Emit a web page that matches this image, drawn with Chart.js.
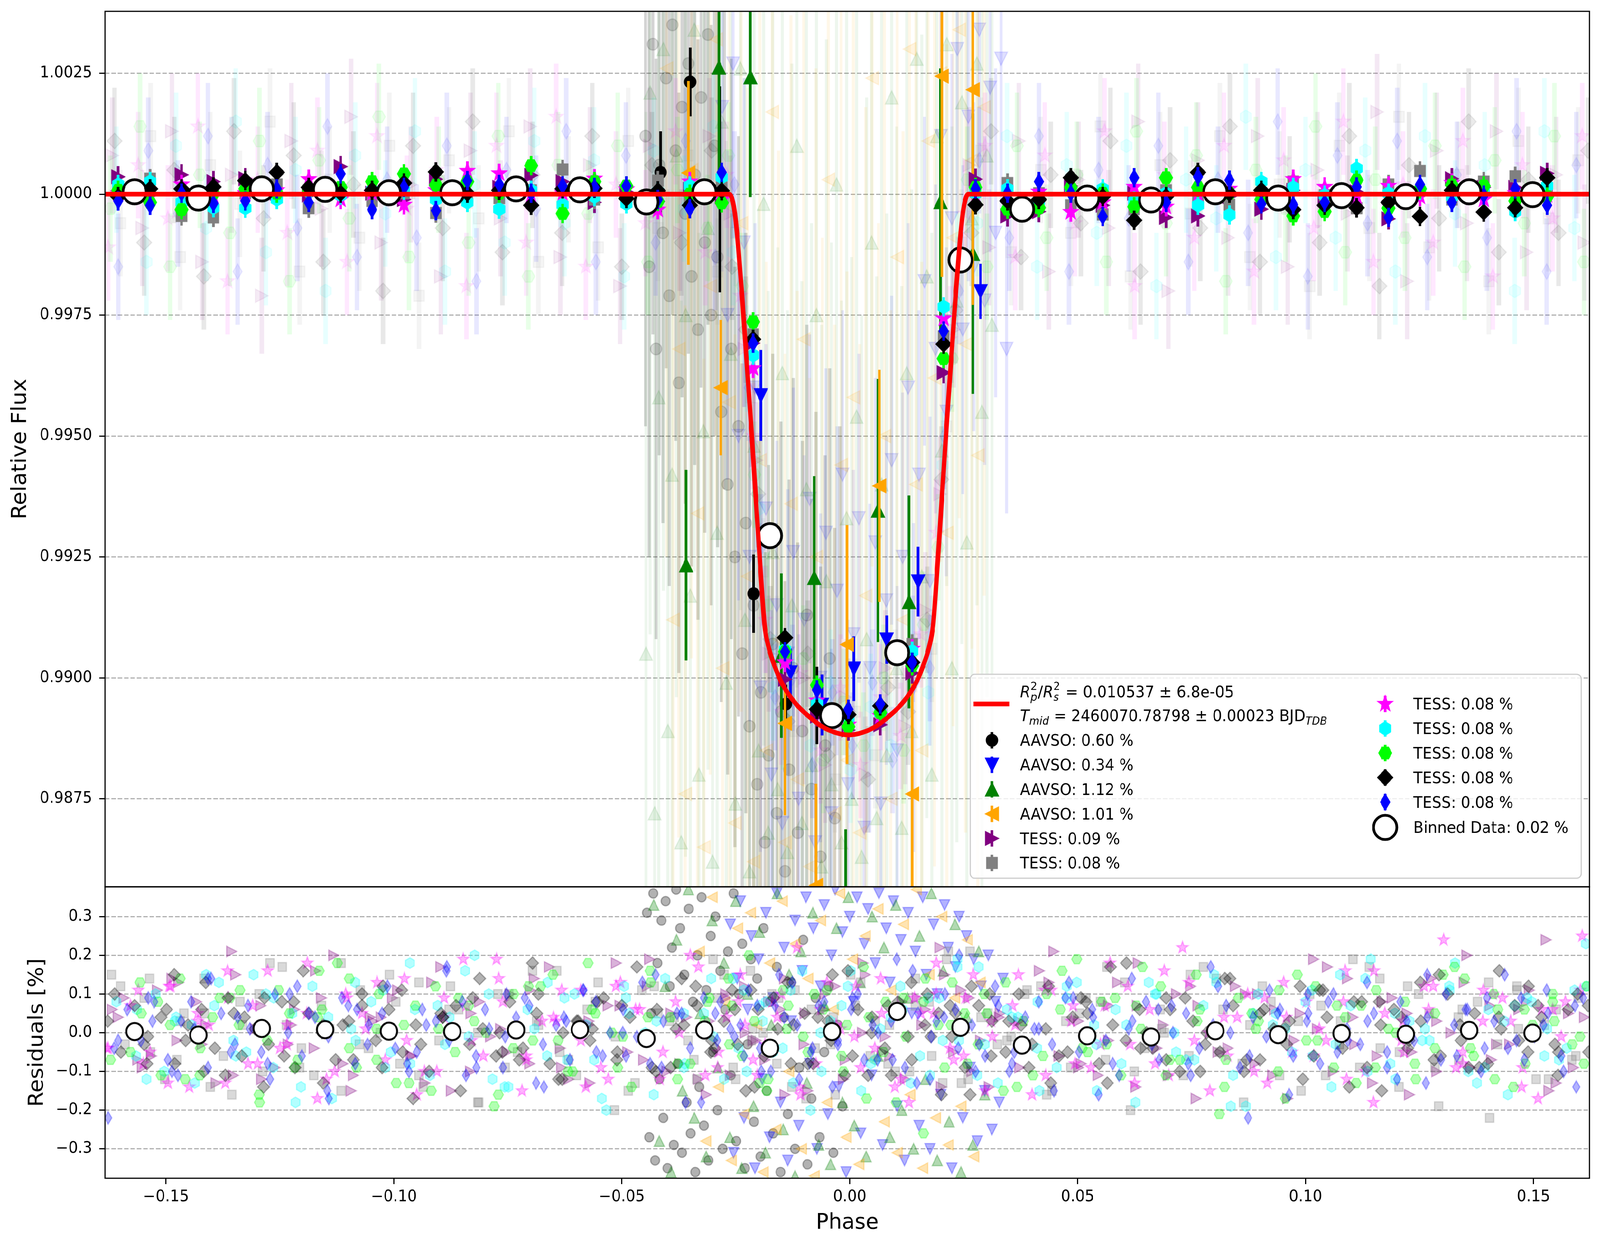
<!DOCTYPE html>
<html>
<head>
<meta charset="utf-8">
<script src="https://cdn.jsdelivr.net/npm/chart.js@4.4.1/dist/chart.umd.min.js"></script>
<style>
  html, body { margin: 0; padding: 0; background: #fff; overflow: hidden; }
  #outer { position: fixed; left: 0; top: 0; width: 100vw; height: 100vh; overflow: hidden; background: #fff; }
  #wrap { position: absolute; left: 0; top: 0; width: 4268px; height: 3192px; transform-origin: 0 0; background: #fff; }
  canvas { position: absolute; left: 0; }
  #top { top: 0; width: 4268px; height: 2290px; }
  #bottom { top: 2260px; width: 4268px; height: 932px; }
</style>
</head>
<body>
<div id="outer">
  <div id="wrap">
    <canvas id="top" width="4268" height="2290"></canvas>
    <canvas id="bottom" width="4268" height="932"></canvas>
  </div>
</div>
<script>
// ---- tick labels ----
const xTicks = [-0.15, -0.10, -0.05, 0, 0.05, 0.10, 0.15];
const fluxTicks = [0.9875, 0.9900, 0.9925, 0.9950, 0.9975, 1.0000, 1.0025];
const residTicks = [-0.3, -0.2, -0.1, 0, 0.1, 0.2, 0.3];

// ---- transit model (red line) ----
const modelPhase = [-0.1634,-0.0264,-0.0258,-0.0252,-0.0245,-0.0237,-0.0227,-0.0217,-0.0207,-0.0197,-0.0187,-0.0177,-0.0165,-0.0152,-0.0137,-0.0117,-0.0092,-0.0062,-0.0032,-0.0002,0.0028,0.0058,0.0088,0.0113,0.0133,0.0148,0.0161,0.0173,0.0183,0.0193,0.0203,0.0213,0.0223,0.0233,0.0241,0.0248,0.0254,0.0260,0.1623];
const modelFlux = [1.0000,1.0000,0.9999,0.9996,0.99895,0.9980,0.99665,0.9953,0.99385,0.9924,0.9911,0.9906,0.99025,0.98995,0.9897,0.98945,0.98922,0.9890,0.98887,0.98882,0.98887,0.9890,0.98922,0.98945,0.9897,0.98995,0.99025,0.9906,0.9911,0.9924,0.99385,0.9953,0.99665,0.9980,0.99895,0.9996,0.9999,1.0000,1.0000];

// ---- binned data (white circles) ----
const binPhase = [-0.1569,-0.1429,-0.1290,-0.1151,-0.1011,-0.0872,-0.0732,-0.0592,-0.0446,-0.0319,-0.0175,-0.0039,0.0104,0.0243,0.0378,0.0521,0.0661,0.0802,0.0940,0.1079,0.1220,0.1359,0.1498];
const binFlux = [1.00005,0.99992,1.00011,1.00010,1.00003,1.00003,1.00011,1.00009,0.99984,1.00005,0.99294,0.98922,0.99052,0.99864,0.99969,0.99992,0.99988,1.00005,0.99992,0.99997,0.99995,1.00005,0.99999];
const binResid = [0.003,-0.006,0.011,0.008,0.004,0.003,0.007,0.008,-0.015,0.007,-0.040,0.003,0.055,0.014,-0.032,-0.008,-0.011,0.005,-0.005,-0.002,-0.004,0.006,-0.001];

// ---- AAVSO 0.60 % ----
const aavso060Phase = [-0.0448,-0.0440,-0.0432,-0.0425,-0.0418,-0.0410,-0.0403,-0.0396,-0.0389,-0.0382,-0.0375,-0.0368,-0.0361,-0.0354,-0.0347,-0.0340,-0.0333,-0.0326,-0.0318,-0.0311,-0.0304,-0.0297,-0.0290,-0.0282,-0.0275,-0.0268,-0.0260,-0.0252,-0.0244,-0.0236,-0.0228,-0.0220,-0.0211,-0.0203,-0.0195,-0.0186,-0.0178,-0.0169,-0.0160,-0.0151,-0.0142,-0.0133,-0.0124,-0.0114,-0.0104,-0.0094,-0.0084,-0.0074,-0.0064,-0.0054,-0.0044,-0.0033,-0.0022];
const aavso060Flux = [1.0012,0.9985,1.0031,0.9968,1.0006,0.9992,1.0024,0.9979,1.0035,1.0009,0.9961,1.0018,0.9996,1.0027,0.9983,1.0004,0.9972,1.0020,0.9990,1.0033,0.9975,1.0010,0.9987,0.9955,0.9999,0.9940,0.9968,0.9925,0.9952,0.9905,0.9932,0.9890,0.9915,0.9878,0.9897,0.9866,0.9884,0.9907,0.9872,0.9893,0.9860,0.9881,0.9902,0.9868,0.9889,0.9913,0.9877,0.9895,0.9863,0.9886,0.9904,0.9871,0.9892];
const aavso060ResPhase = [-0.0445,-0.0440,-0.0436,-0.0431,-0.0427,-0.0422,-0.0418,-0.0413,-0.0409,-0.0404,-0.0400,-0.0395,-0.0390,-0.0386,-0.0381,-0.0377,-0.0372,-0.0368,-0.0363,-0.0358,-0.0353,-0.0349,-0.0344,-0.0339,-0.0334,-0.0330,-0.0325,-0.0320,-0.0315,-0.0310,-0.0305,-0.0300,-0.0295,-0.0290,-0.0284,-0.0279,-0.0273,-0.0267,-0.0261,-0.0255,-0.0249,-0.0243,-0.0236,-0.0230,-0.0224,-0.0217,-0.0210,-0.0203,-0.0196,-0.0189,-0.0182,-0.0175,-0.0168,-0.0160,-0.0152,-0.0144,-0.0136,-0.0128,-0.0120,-0.0111,-0.0102,-0.0093,-0.0084,-0.0075,-0.0066,-0.0056,-0.0046,-0.0036,-0.0026,-0.0016];
const aavso060Res = [0.31,-0.27,0.05,0.36,-0.33,0.18,-0.12,0.29,-0.22,0.34,-0.35,0.12,0.22,-0.29,0.37,-0.08,0.27,-0.31,0.15,-0.18,0.32,-0.26,0.08,-0.36,0.20,-0.14,0.35,-0.24,0.11,-0.33,0.25,-0.05,0.30,-0.20,0.16,-0.30,0.06,0.21,-0.11,0.36,-0.28,0.10,0.23,-0.35,-0.03,0.19,-0.23,0.14,-0.32,0.27,-0.15,0.08,-0.26,0.17,-0.36,0.04,-0.21,0.13,-0.30,-0.09,0.24,-0.34,-0.17,0.09,-0.27,-0.05,0.12,-0.31,0.02,-0.19];
const aavso060BinPhase = [-0.0415,-0.0350,-0.0285,-0.0211,-0.0140,-0.0072];
const aavso060BinFlux = [1.00045,1.00232,1.00010,0.99174,0.98946,0.98943];
const aavso060BinErr = [0.00085,0.00071,0.00213,0.00081,0.00040,0.00080];

// ---- AAVSO 0.34 % ----
const aavso034Phase = [-0.0280,-0.0268,-0.0256,-0.0244,-0.0232,-0.0220,-0.0208,-0.0196,-0.0184,-0.0172,-0.0160,-0.0148,-0.0136,-0.0124,-0.0112,-0.0100,-0.0088,-0.0076,-0.0064,-0.0052,-0.0040,-0.0028,-0.0016,-0.0004,0.0008,0.0020,0.0032,0.0044,0.0056,0.0068,0.0080,0.0092,0.0104,0.0116,0.0128,0.0140,0.0152,0.0164,0.0176,0.0188,0.0200,0.0212,0.0224,0.0236,0.0248,0.0260,0.0272,0.0284,0.0296,0.0308,0.0320,0.0332,0.0344];
const aavso034Flux = [1.0018,0.9975,1.0027,0.9950,0.9990,0.9925,0.9960,0.9898,0.9935,0.9880,0.9915,0.9870,0.9905,0.9926,0.9875,0.9912,0.9937,0.9866,0.9900,0.9930,0.9872,0.9918,0.9942,0.9878,0.9909,0.9933,0.9869,0.9902,0.9928,0.9874,0.9916,0.9945,0.9885,0.9925,0.9960,0.9898,0.9942,0.9982,0.9920,0.9968,1.0012,0.9955,0.9995,1.0030,0.9972,1.0016,0.9985,1.0034,0.9978,1.0022,0.9992,1.0028,0.9968];
const aavso034ResPhase = [-0.0262,-0.0255,-0.0247,-0.0240,-0.0232,-0.0224,-0.0216,-0.0208,-0.0200,-0.0192,-0.0184,-0.0176,-0.0168,-0.0160,-0.0152,-0.0144,-0.0136,-0.0128,-0.0120,-0.0112,-0.0104,-0.0096,-0.0088,-0.0080,-0.0072,-0.0064,-0.0056,-0.0048,-0.0040,-0.0032,-0.0024,-0.0016,-0.0008,0.0000,0.0008,0.0016,0.0024,0.0032,0.0040,0.0048,0.0056,0.0064,0.0072,0.0080,0.0088,0.0096,0.0104,0.0112,0.0120,0.0128,0.0136,0.0144,0.0152,0.0160,0.0168,0.0176,0.0184,0.0192,0.0200,0.0208,0.0216,0.0224,0.0232,0.0240,0.0248,0.0256,0.0264,0.0272,0.0280,0.0288,0.0296,0.0304,0.0312,0.0320,0.0328,0.0336];
const aavso034Res = [0.28,-0.31,0.14,0.34,-0.22,0.06,0.25,-0.35,0.19,-0.12,0.31,-0.27,0.09,0.36,-0.18,0.22,-0.33,0.03,0.29,-0.24,0.16,0.35,-0.08,0.27,-0.30,0.12,0.33,-0.21,0.20,0.37,-0.14,0.26,-0.36,0.30,0.08,0.35,-0.26,0.23,0.32,-0.11,0.18,0.36,-0.29,0.27,0.13,0.34,-0.19,0.24,-0.33,0.31,0.05,0.21,-0.24,0.35,0.15,-0.30,0.28,0.10,-0.16,0.33,0.22,-0.35,0.17,0.30,-0.22,0.25,-0.09,0.19,-0.28,0.12,-0.15,0.20,-0.25,0.08,-0.18,0.14];
const aavso034BinPhase = [-0.0195,-0.0130,-0.0061,0.0009,0.0081,0.0150,0.0287];
const aavso034BinFlux = [0.99584,0.99011,0.98944,0.99019,0.99079,0.99199,0.99799];
const aavso034BinErr = [0.00094,0.00050,0.00063,0.00067,0.00050,0.00072,0.00057];

// ---- AAVSO 1.12 % ----
const aavso112Phase = [-0.0447,-0.0438,-0.0428,-0.0419,-0.0409,-0.0399,-0.0390,-0.0380,-0.0370,-0.0360,-0.0350,-0.0341,-0.0331,-0.0321,-0.0311,-0.0301,-0.0291,-0.0281,-0.0271,-0.0261,-0.0251,-0.0240,-0.0230,-0.0220,-0.0210,-0.0200,-0.0189,-0.0179,-0.0169,-0.0158,-0.0148,-0.0137,-0.0127,-0.0116,-0.0105,-0.0095,-0.0084,-0.0073,-0.0062,-0.0051,-0.0040,-0.0029,-0.0018,-0.0007,0.0004,0.0015,0.0026,0.0037,0.0048,0.0059,0.0070,0.0081,0.0092,0.0103,0.0114,0.0125,0.0136,0.0147,0.0158,0.0169,0.0180,0.0191,0.0202,0.0213,0.0224,0.0235,0.0246,0.0257,0.0268,0.0279,0.0290,0.0301,0.0312];
const aavso112Flux = [0.9905,1.0021,0.9872,0.9958,1.0030,0.9889,0.9942,1.0008,0.9866,0.9975,0.9917,1.0034,0.9880,0.9951,0.9993,0.9862,0.9930,1.0015,0.9899,0.9967,0.9874,1.0026,0.9912,0.9860,0.9948,0.9885,0.9998,0.9868,0.9926,0.9877,0.9963,0.9864,0.9915,1.0010,0.9870,0.9939,0.9882,0.9975,0.9861,0.9920,0.9878,1.0002,0.9866,0.9933,0.9875,0.9954,0.9863,0.9908,0.9990,0.9871,0.9940,0.9884,1.0020,0.9902,0.9869,0.9963,0.9889,1.0028,0.9921,0.9983,0.9880,1.0012,0.9947,1.0031,0.9902,0.9978,1.0019,0.9928,0.9995,1.0027,0.9955,1.0008,0.9973];
const aavso112ResPhase = [-0.0430,-0.0418,-0.0405,-0.0392,-0.0380,-0.0367,-0.0354,-0.0341,-0.0328,-0.0315,-0.0302,-0.0289,-0.0276,-0.0263,-0.0250,-0.0237,-0.0224,-0.0211,-0.0198,-0.0185,-0.0172,-0.0159,-0.0146,-0.0133,-0.0120,-0.0107,-0.0094,-0.0081,-0.0068,-0.0055,-0.0042,-0.0029,-0.0016,-0.0003,0.0010,0.0023,0.0036,0.0049,0.0062,0.0075,0.0088,0.0101,0.0114,0.0127,0.0140,0.0153,0.0166,0.0179,0.0192,0.0205,0.0218,0.0231,0.0244,0.0257,0.0270,0.0283,0.0296];
const aavso112Res = [0.33,-0.28,0.12,-0.36,0.24,-0.15,0.37,-0.22,0.05,-0.32,0.29,-0.09,0.18,-0.27,0.34,-0.35,0.10,-0.19,0.26,-0.31,0.02,0.36,-0.25,0.15,-0.37,0.21,-0.13,0.31,-0.29,0.07,-0.34,0.27,-0.18,0.35,-0.24,0.13,-0.32,0.30,-0.06,0.22,-0.27,0.33,-0.20,0.09,-0.30,0.25,-0.12,0.36,-0.33,0.16,-0.23,0.28,-0.36,0.04,-0.29,0.21,-0.16];
const aavso112BinPhase = [-0.0359,-0.0287,-0.0218,-0.0150,-0.0078,-0.0009,0.0062,0.0130,0.0199,0.0270];
const aavso112BinFlux = [0.99233,1.00262,1.00242,0.99046,0.99207,0.98387,0.99346,0.99157,0.99984,0.99877];
const aavso112BinErr = [0.00197,0.00280,0.00248,0.00170,0.00210,0.00300,0.00272,0.00220,0.00276,0.00290];

// ---- AAVSO 1.01 % ----
const aavso101Phase = [-0.0402,-0.0388,-0.0375,-0.0361,-0.0347,-0.0334,-0.0320,-0.0306,-0.0293,-0.0279,-0.0265,-0.0252,-0.0238,-0.0224,-0.0211,-0.0197,-0.0183,-0.0170,-0.0156,-0.0142,-0.0129,-0.0115,-0.0101,-0.0088,-0.0074,-0.0060,-0.0047,-0.0033,-0.0019,-0.0006,0.0008,0.0022,0.0035,0.0049,0.0063,0.0076,0.0090,0.0104,0.0117,0.0131,0.0145,0.0158,0.0172,0.0186,0.0199,0.0213,0.0227,0.0240,0.0254,0.0268,0.0281,0.0295];
const aavso101Flux = [1.0026,0.9912,0.9968,0.9876,1.0005,0.9934,0.9865,0.9981,1.0032,0.9902,0.9957,0.9870,0.9994,0.9921,0.9862,0.9945,0.9885,1.0017,0.9908,0.9866,0.9936,0.9879,0.9970,0.9861,0.9925,0.9890,1.0003,0.9872,0.9944,0.9883,0.9958,0.9868,0.9917,1.0024,0.9893,0.9950,0.9875,0.9987,0.9912,1.0030,0.9940,0.9885,1.0011,0.9962,1.0025,0.9930,0.9991,1.0034,0.9969,1.0007,0.9946,1.0018];
const aavso101ResPhase = [-0.0330,-0.0316,-0.0302,-0.0288,-0.0274,-0.0260,-0.0246,-0.0232,-0.0218,-0.0204,-0.0190,-0.0176,-0.0162,-0.0148,-0.0134,-0.0120,-0.0106,-0.0092,-0.0078,-0.0064,-0.0050,-0.0036,-0.0022,-0.0008,0.0006,0.0020,0.0034,0.0048,0.0062,0.0076,0.0090,0.0104,0.0118,0.0132,0.0146,0.0160,0.0174,0.0188,0.0202,0.0216,0.0230,0.0244,0.0258,0.0272,0.0286];
const aavso101Res = [0.21,-0.28,0.35,-0.14,0.08,-0.33,0.27,-0.21,0.31,0.02,-0.36,0.18,-0.25,0.34,-0.10,0.23,-0.30,0.14,-0.37,0.29,-0.18,0.06,0.36,-0.27,0.19,-0.34,0.25,-0.07,0.32,-0.23,0.11,-0.31,0.28,-0.16,0.37,-0.35,0.15,-0.22,0.30,-0.29,0.09,-0.19,0.24,-0.32,0.13];
const aavso101BinPhase = [-0.0354,-0.0283,-0.0142,-0.0074,-0.0006,0.0065,0.0137,0.0202,0.0270];
const aavso101BinFlux = [1.00044,0.99600,0.98906,0.98571,0.99069,0.99397,0.98760,1.00244,1.00216];
const aavso101BinErr = [0.00190,0.00140,0.00190,0.00210,0.00247,0.00240,0.00244,0.00415,0.00445];

// ---- TESS sectors ----
const tessBinPhase = [-0.1605,-0.1535,-0.1466,-0.1396,-0.1326,-0.1257,-0.1187,-0.1117,-0.1048,-0.0978,-0.0908,-0.0839,-0.0769,-0.0699,-0.0630,-0.0560,-0.0490,-0.0421,-0.0351,-0.0281,-0.0212,-0.0142,-0.0072,-0.0003,0.0067,0.0137,0.0206,0.0276,0.0346,0.0415,0.0485,0.0555,0.0624,0.0694,0.0764,0.0833,0.0903,0.0973,0.1042,0.1112,0.1182,0.1251,0.1321,0.1391,0.1460,0.1530];

const tessPurplePhase = [-0.1618,-0.1552,-0.1487,-0.1421,-0.1356,-0.1290,-0.1225,-0.1159,-0.1094,-0.1028,-0.0963,-0.0897,-0.0832,-0.0766,-0.0701,-0.0635,-0.0570,-0.0504,-0.0439,-0.0373,-0.0308,-0.0262,-0.0231,-0.0205,-0.0178,-0.0142,-0.0098,-0.0054,-0.0010,0.0034,0.0078,0.0122,0.0166,0.0198,0.0228,0.0262,0.0306,0.0371,0.0437,0.0502,0.0568,0.0633,0.0699,0.0764,0.0830,0.0895,0.0961,0.1026,0.1092,0.1157,0.1223,0.1288,0.1354,0.1419,0.1485,0.1550,0.1612];
const tessPurpleFlux = [1.0008,0.9993,1.0013,0.9986,1.0004,0.9979,1.0011,0.9997,1.0016,0.9990,1.0002,0.9983,1.0009,0.9995,1.0014,0.9987,1.0006,0.9981,1.0010,0.9992,1.0012,0.9996,0.9968,0.9945,0.9905,0.9895,0.9900,0.9882,0.9896,0.9880,0.9902,0.9890,0.9914,0.9938,0.9972,1.0006,0.9989,1.0011,0.9984,1.0003,0.9993,1.0015,0.9980,1.0007,0.9991,1.0012,0.9985,1.0005,0.9996,1.0017,0.9982,1.0009,0.9994,1.0013,0.9988,1.0004,0.9990];
const tessPurpleRes = [0.06,-0.09,0.14,-0.03,0.21,-0.12,0.02,0.09,-0.15,0.04,-0.06,0.17,-0.10,0.01,0.11,-0.04,-0.13,0.07,0.19,-0.08,0.03,-0.11,0.12,-0.02,0.08,-0.16,0.05,0.10,-0.07,0.15,-0.01,-0.12,0.06,0.22,-0.05,0.09,-0.14,0.03,0.13,-0.09,-0.02,0.18,-0.11,0.07,-0.04,0.10,-0.17,0.01,0.14,-0.06,0.05,-0.10,0.20,-0.03,0.08,-0.13,0.04];
const tessPurpleResPhaseB = [-0.1605,-0.1562,-0.1519,-0.1476,-0.1433,-0.1390,-0.1347,-0.1304,-0.1261,-0.1218,-0.1175,-0.1132,-0.1089,-0.1046,-0.1003,-0.0960,-0.0917,-0.0874,-0.0831,-0.0788,-0.0745,-0.0702,-0.0659,-0.0616,-0.0573,-0.0530,-0.0487,-0.0444,-0.0401,-0.0358,-0.0315,-0.0272,-0.0229,-0.0186,-0.0143,-0.0100,-0.0057,-0.0014,0.0029,0.0072,0.0115,0.0158,0.0201,0.0244,0.0287,0.0330,0.0373,0.0416,0.0459,0.0502,0.0545,0.0588,0.0631,0.0674,0.0717,0.0760,0.0803,0.0846,0.0889,0.0932,0.0975,0.1018,0.1061,0.1104,0.1147,0.1190,0.1233,0.1276,0.1319,0.1362,0.1405,0.1448,0.1491,0.1534,0.1577];
const tessPurpleResB = [0.04,-0.07,0.11,-0.02,0.08,-0.13,0.15,0.01,-0.09,0.06,-0.04,0.20,-0.11,0.03,0.09,-0.06,0.13,-0.15,0.05,-0.01,0.10,-0.08,0.17,-0.12,0.02,0.07,-0.05,0.12,-0.10,0.04,-0.16,0.09,0.00,-0.07,0.14,-0.03,0.06,-0.12,0.18,-0.05,0.08,0.02,-0.14,0.11,-0.02,0.05,-0.09,0.16,-0.06,0.03,-0.11,0.13,0.07,-0.04,0.10,-0.17,0.01,0.12,-0.08,0.06,-0.02,0.19,-0.10,0.04,-0.13,0.09,-0.05,0.14,0.00,-0.09,0.07,-0.03,0.11,-0.15,0.05];
const tessPurpleResPhaseC = [-0.1592,-0.1532,-0.1472,-0.1412,-0.1352,-0.1292,-0.1232,-0.1172,-0.1112,-0.1052,-0.0992,-0.0932,-0.0872,-0.0812,-0.0752,-0.0692,-0.0632,-0.0572,-0.0512,-0.0452,-0.0392,-0.0332,-0.0272,-0.0212,-0.0152,-0.0092,-0.0032,0.0028,0.0088,0.0148,0.0208,0.0268,0.0328,0.0388,0.0448,0.0508,0.0568,0.0628,0.0688,0.0748,0.0808,0.0868,0.0928,0.0988,0.1048,0.1108,0.1168,0.1228,0.1288,0.1348,0.1408,0.1468,0.1528,0.1588];
const tessPurpleResC = [0.09,-0.06,0.13,0.02,-0.11,0.07,-0.03,0.16,-0.08,0.04,0.11,-0.13,0.01,0.08,-0.05,0.14,-0.09,0.03,0.18,-0.07,0.05,-0.12,0.10,-0.02,0.06,-0.15,0.12,0.00,-0.06,0.09,0.15,-0.10,0.04,-0.04,0.21,-0.08,0.07,-0.14,0.02,0.12,-0.05,0.10,-0.11,0.05,0.17,-0.03,0.08,-0.16,0.03,0.13,-0.07,0.06,0.24,-0.09];
const tessPurpleBin = [1.00036,0.99998,1.00040,1.00026,1.00032,1.00002,0.99998,1.00057,1.00002,0.99989,1.00031,1.00002,1.00014,1.00039,1.00026,0.99983,1.00005,0.99985,1.00010,0.99995,0.99692,0.98997,0.98921,0.98892,0.98903,0.99010,0.99631,1.00031,0.99955,0.99964,1.00017,0.99977,1.00002,0.99952,0.99955,0.99995,0.99969,1.00008,0.99989,1.00005,0.99949,0.99998,1.00032,1.00014,1.00014,1.00043];

const tessGrayPhase = [-0.1600,-0.1534,-0.1469,-0.1403,-0.1338,-0.1272,-0.1207,-0.1141,-0.1076,-0.1010,-0.0945,-0.0879,-0.0814,-0.0748,-0.0683,-0.0617,-0.0552,-0.0486,-0.0421,-0.0355,-0.0290,-0.0250,-0.0218,-0.0190,-0.0160,-0.0120,-0.0076,-0.0032,0.0012,0.0056,0.0100,0.0144,0.0180,0.0212,0.0245,0.0288,0.0354,0.0419,0.0485,0.0550,0.0616,0.0681,0.0747,0.0812,0.0878,0.0943,0.1009,0.1074,0.1140,0.1205,0.1271,0.1336,0.1402,0.1467,0.1533,0.1598];
const tessGrayFlux = [0.9994,1.0012,0.9987,1.0006,0.9998,1.0015,0.9984,1.0003,0.9991,1.0010,0.9979,1.0007,0.9995,1.0013,0.9986,1.0001,0.9989,1.0011,0.9993,1.0008,0.9984,0.9992,0.9958,0.9922,0.9906,0.9889,0.9897,0.9879,0.9893,0.9884,0.9899,0.9908,0.9906,0.9952,0.9990,1.0009,0.9988,1.0005,0.9992,1.0014,0.9983,1.0006,0.9996,1.0012,0.9987,1.0002,0.9981,1.0010,0.9993,1.0016,0.9989,1.0004,0.9982,1.0011,0.9995,1.0007];
const tessGrayRes = [0.12,-0.05,0.03,-0.14,0.08,0.18,-0.09,0.01,-0.03,0.15,-0.11,0.06,-0.18,0.10,0.02,-0.07,0.13,-0.15,0.05,-0.02,0.09,-0.12,0.16,0.00,-0.08,0.11,-0.04,-0.16,0.07,0.03,-0.10,0.14,-0.06,0.19,-0.13,0.04,-0.01,0.12,-0.09,0.08,-0.20,0.06,0.15,-0.05,0.02,-0.11,0.10,-0.03,0.17,-0.14,0.05,-0.07,0.13,0.01,-0.12,0.09];
const tessGrayResPhaseB = [-0.1590,-0.1548,-0.1503,-0.1461,-0.1417,-0.1374,-0.1332,-0.1288,-0.1245,-0.1203,-0.1159,-0.1116,-0.1074,-0.1030,-0.0987,-0.0945,-0.0901,-0.0858,-0.0816,-0.0772,-0.0729,-0.0687,-0.0643,-0.0600,-0.0558,-0.0514,-0.0471,-0.0429,-0.0385,-0.0342,-0.0300,-0.0256,-0.0213,-0.0171,-0.0127,-0.0084,-0.0042,0.0002,0.0045,0.0087,0.0131,0.0174,0.0216,0.0260,0.0303,0.0345,0.0389,0.0432,0.0474,0.0518,0.0561,0.0603,0.0647,0.0690,0.0732,0.0776,0.0819,0.0861,0.0905,0.0948,0.0990,0.1034,0.1077,0.1119,0.1163,0.1206,0.1248,0.1292,0.1335,0.1377,0.1421,0.1464,0.1506,0.1550,0.1593];
const tessGrayResB = [-0.03,0.09,-0.12,0.05,0.14,-0.06,0.02,-0.10,0.17,-0.04,0.07,-0.15,0.11,0.00,-0.08,0.13,-0.02,0.06,-0.18,0.10,-0.05,0.03,0.16,-0.11,0.08,-0.01,-0.13,0.12,0.04,-0.07,0.19,-0.09,0.01,0.10,-0.14,0.06,-0.03,0.15,-0.06,0.02,-0.10,0.08,0.21,-0.12,0.05,-0.02,0.11,-0.16,0.03,0.09,-0.07,0.13,-0.04,0.00,-0.11,0.17,0.06,-0.08,0.12,-0.01,-0.15,0.07,0.03,-0.09,0.14,-0.05,0.10,-0.19,0.04,0.08,-0.03,0.12,-0.12,0.06,-0.06];
const tessGrayResPhaseC = [-0.1536,-0.1476,-0.1416,-0.1356,-0.1296,-0.1236,-0.1176,-0.1116,-0.1056,-0.0996,-0.0936,-0.0876,-0.0816,-0.0756,-0.0696,-0.0636,-0.0576,-0.0516,-0.0456,-0.0396,-0.0336,-0.0276,-0.0216,-0.0156,-0.0096,-0.0036,0.0024,0.0084,0.0144,0.0204,0.0264,0.0324,0.0384,0.0444,0.0504,0.0564,0.0624,0.0684,0.0744,0.0804,0.0864,0.0924,0.0984,0.1044,0.1104,0.1164,0.1224,0.1284,0.1344,0.1404,0.1464,0.1524,0.1584,-0.1620];
const tessGrayResC = [0.14,-0.07,0.05,-0.16,0.10,0.02,-0.11,0.18,-0.04,0.08,-0.14,0.12,0.00,-0.09,0.16,-0.05,0.06,-0.20,0.11,0.03,-0.12,0.15,-0.02,0.09,-0.17,0.04,0.13,-0.08,0.07,-0.13,0.21,-0.03,0.10,-0.15,0.05,0.17,-0.10,0.01,-0.06,0.14,-0.18,0.08,0.03,-0.11,0.19,-0.04,0.12,-0.09,0.06,-0.22,0.11,0.02,-0.07,0.15];
const tessGrayBin = [1.00014,1.00032,0.99955,0.99952,1.00002,1.00020,0.99971,1.00008,0.99986,1.00002,0.99961,0.99995,0.99992,1.00008,1.00051,0.99989,0.99990,1.00028,0.99995,1.00014,0.99710,0.99040,0.98946,0.98910,0.98930,0.99070,0.99706,1.00005,1.00023,1.00002,0.99977,0.99958,0.99969,1.00008,0.99995,0.99978,1.00002,1.00026,0.99998,0.99971,1.00020,1.00048,0.99989,1.00026,1.00037,1.00005];

const tessMagentaPhase = [-0.1627,-0.1561,-0.1496,-0.1430,-0.1365,-0.1299,-0.1234,-0.1168,-0.1103,-0.1037,-0.0972,-0.0906,-0.0841,-0.0775,-0.0710,-0.0644,-0.0579,-0.0513,-0.0448,-0.0382,-0.0317,-0.0270,-0.0240,-0.0212,-0.0186,-0.0150,-0.0108,-0.0064,-0.0020,0.0024,0.0068,0.0112,0.0156,0.0190,0.0220,0.0254,0.0297,0.0363,0.0428,0.0494,0.0559,0.0625,0.0690,0.0756,0.0821,0.0887,0.0952,0.1018,0.1083,0.1149,0.1214,0.1280,0.1345,0.1411,0.1476,0.1542,0.1607];
const tessMagentaFlux = [0.9989,1.0006,0.9995,1.0014,0.9982,1.0003,0.9992,1.0009,0.9986,1.0012,0.9997,1.0005,0.9981,1.0010,0.9990,1.0016,0.9985,1.0002,0.9994,1.0013,0.9988,1.0004,0.9979,0.9950,0.9912,0.9893,0.9901,0.9885,0.9898,0.9882,0.9896,0.9888,0.9909,0.9930,0.9970,0.9996,1.0010,0.9987,1.0008,0.9994,1.0013,0.9981,1.0004,0.9991,1.0010,0.9984,1.0007,0.9993,1.0015,0.9986,1.0002,0.9990,1.0011,0.9983,1.0006,0.9995,1.0012];
const tessMagentaRes = [-0.04,0.11,-0.13,0.05,0.16,-0.08,0.02,-0.17,0.09,0.13,-0.02,-0.10,0.07,0.19,-0.06,0.03,-0.14,0.12,-0.01,0.08,-0.11,0.04,0.15,-0.07,-0.03,0.10,-0.16,0.06,0.01,-0.09,0.14,-0.12,0.05,0.18,-0.04,0.09,-0.15,0.02,0.11,-0.08,0.07,-0.13,0.16,-0.02,0.04,-0.10,0.13,-0.06,0.08,-0.18,0.03,0.12,-0.05,0.10,-0.09,0.06,0.25];
const tessMagentaResPhaseB = [-0.1578,-0.1535,-0.1493,-0.1449,-0.1406,-0.1364,-0.1320,-0.1277,-0.1235,-0.1191,-0.1148,-0.1106,-0.1062,-0.1019,-0.0977,-0.0933,-0.0890,-0.0848,-0.0804,-0.0761,-0.0719,-0.0675,-0.0632,-0.0590,-0.0546,-0.0503,-0.0461,-0.0417,-0.0374,-0.0332,-0.0288,-0.0245,-0.0203,-0.0159,-0.0116,-0.0074,-0.0030,0.0013,0.0055,0.0099,0.0142,0.0184,0.0228,0.0271,0.0313,0.0357,0.0400,0.0442,0.0486,0.0529,0.0571,0.0615,0.0658,0.0700,0.0744,0.0787,0.0829,0.0873,0.0916,0.0958,0.1002,0.1045,0.1087,0.1131,0.1174,0.1216,0.1260,0.1303,0.1345,0.1389,0.1432,0.1474,0.1518,0.1561,0.1603];
const tessMagentaResB = [0.07,-0.05,0.12,-0.14,0.02,0.09,-0.08,0.16,-0.03,0.05,-0.12,0.10,0.01,-0.07,0.14,-0.10,0.04,0.19,-0.06,0.08,-0.15,0.03,0.11,-0.02,-0.09,0.13,0.06,-0.12,0.00,0.17,-0.05,0.08,-0.11,0.04,0.22,-0.08,0.02,0.12,-0.04,-0.14,0.09,0.05,-0.07,0.15,-0.01,0.07,-0.16,0.11,0.03,-0.09,0.18,-0.03,0.06,-0.11,0.13,0.00,-0.06,0.10,-0.13,0.04,0.08,-0.02,0.16,-0.10,0.05,-0.05,0.12,0.24,-0.08,0.03,0.09,-0.14,0.06,-0.01,0.11];
const tessMagentaResPhaseC = [-0.1550,-0.1490,-0.1430,-0.1370,-0.1310,-0.1250,-0.1190,-0.1130,-0.1070,-0.1010,-0.0950,-0.0890,-0.0830,-0.0770,-0.0710,-0.0650,-0.0590,-0.0530,-0.0470,-0.0410,-0.0350,-0.0290,-0.0230,-0.0170,-0.0110,-0.0050,0.0010,0.0070,0.0130,0.0190,0.0250,0.0310,0.0370,0.0430,0.0490,0.0550,0.0610,0.0670,0.0730,0.0790,0.0850,0.0910,0.0970,0.1030,0.1090,0.1150,0.1210,0.1270,0.1330,0.1390,0.1450,0.1510,0.1570,-0.1630];
const tessMagentaResC = [-0.08,0.12,0.03,-0.13,0.07,-0.04,0.18,-0.10,0.05,0.01,-0.16,0.09,-0.02,0.14,-0.07,0.04,0.11,-0.12,0.06,-0.05,0.20,-0.09,0.02,0.08,-0.14,0.13,-0.01,0.05,-0.18,0.10,-0.06,0.03,0.15,-0.11,0.07,-0.03,0.12,-0.08,0.22,-0.15,0.04,0.09,-0.05,0.01,-0.12,0.16,-0.02,0.06,-0.09,0.11,0.03,-0.17,0.08,-0.04];
const tessMagentaBin = [1.00002,0.99995,1.00020,0.99995,1.00002,1.00008,1.00031,0.99989,1.00002,0.99978,1.00008,1.00048,1.00043,0.99998,1.00002,1.00032,1.00010,0.99968,1.00026,0.99989,0.99640,0.99032,0.98953,0.98903,0.98921,0.99060,0.99743,0.99995,0.99998,1.00005,0.99963,0.99983,1.00015,0.99974,0.99998,1.00011,0.99998,1.00031,1.00015,0.99995,1.00017,0.99995,1.00023,0.99989,1.00002,0.99998];

const tessCyanPhase = [-0.1609,-0.1543,-0.1478,-0.1412,-0.1347,-0.1281,-0.1216,-0.1150,-0.1085,-0.1019,-0.0954,-0.0888,-0.0823,-0.0757,-0.0692,-0.0626,-0.0561,-0.0495,-0.0430,-0.0364,-0.0299,-0.0256,-0.0226,-0.0198,-0.0168,-0.0130,-0.0086,-0.0042,0.0002,0.0046,0.0090,0.0134,0.0172,0.0204,0.0236,0.0280,0.0345,0.0411,0.0476,0.0542,0.0607,0.0673,0.0738,0.0804,0.0869,0.0935,0.1000,0.1066,0.1131,0.1197,0.1262,0.1328,0.1393,0.1459,0.1524,0.1590];
const tessCyanFlux = [1.0003,0.9986,1.0010,0.9993,1.0015,0.9988,1.0005,0.9980,1.0008,0.9996,1.0013,0.9984,1.0002,0.9990,1.0011,0.9994,1.0007,0.9983,1.0009,0.9997,1.0014,0.9988,0.9966,0.9935,0.9898,0.9903,0.9886,0.9899,0.9881,0.9894,0.9886,0.9904,0.9897,0.9944,0.9985,0.9994,1.0012,0.9985,1.0006,0.9992,1.0010,0.9981,1.0003,0.9995,1.0016,0.9987,1.0005,0.9991,1.0009,0.9984,1.0012,0.9996,1.0006,0.9980,1.0013,0.9993];
const tessCyanRes = [0.08,-0.12,0.04,0.15,-0.06,0.10,-0.18,0.02,0.13,-0.09,0.06,-0.03,0.20,-0.14,0.01,0.09,-0.07,0.12,-0.16,0.05,-0.01,0.14,-0.10,0.07,-0.05,0.11,-0.20,0.03,0.16,-0.08,0.04,-0.13,0.09,-0.02,0.17,-0.11,0.06,-0.04,0.12,-0.15,0.02,0.10,-0.07,0.13,-0.19,0.05,0.08,-0.03,0.14,-0.12,0.01,0.18,-0.09,0.07,-0.06,0.11];
const tessCyanResPhaseB = [-0.1566,-0.1523,-0.1481,-0.1437,-0.1394,-0.1352,-0.1308,-0.1265,-0.1223,-0.1179,-0.1136,-0.1094,-0.1050,-0.1007,-0.0965,-0.0921,-0.0878,-0.0836,-0.0792,-0.0749,-0.0707,-0.0663,-0.0620,-0.0578,-0.0534,-0.0491,-0.0449,-0.0405,-0.0362,-0.0320,-0.0276,-0.0233,-0.0191,-0.0147,-0.0104,-0.0062,-0.0018,0.0025,0.0067,0.0111,0.0154,0.0196,0.0240,0.0283,0.0325,0.0369,0.0412,0.0454,0.0498,0.0541,0.0583,0.0627,0.0670,0.0712,0.0756,0.0799,0.0841,0.0885,0.0928,0.0970,0.1014,0.1057,0.1099,0.1143,0.1186,0.1228,0.1272,0.1315,0.1357,0.1401,0.1444,0.1486,0.1530,0.1573,0.1615];
const tessCyanResB = [-0.06,0.10,0.03,-0.13,0.07,-0.02,0.15,-0.09,0.05,0.12,-0.17,0.01,0.08,-0.05,0.18,-0.11,0.04,-0.01,0.10,-0.14,0.06,0.13,-0.07,0.02,-0.20,0.09,0.00,0.14,-0.08,0.05,-0.12,0.11,0.03,-0.04,0.16,-0.10,0.07,-0.15,0.01,0.12,-0.06,0.09,-0.02,0.17,-0.13,0.04,0.08,-0.09,0.13,-0.03,0.06,-0.18,0.10,0.00,-0.07,0.15,-0.11,0.05,0.02,-0.05,0.11,-0.14,0.07,0.19,-0.08,0.03,-0.02,0.12,-0.10,0.06,-0.16,0.09,0.01,-0.04,0.23];
const tessCyanResPhaseC = [-0.1564,-0.1504,-0.1444,-0.1384,-0.1324,-0.1264,-0.1204,-0.1144,-0.1084,-0.1024,-0.0964,-0.0904,-0.0844,-0.0784,-0.0724,-0.0664,-0.0604,-0.0544,-0.0484,-0.0424,-0.0364,-0.0304,-0.0244,-0.0184,-0.0124,-0.0064,-0.0004,0.0056,0.0116,0.0176,0.0236,0.0296,0.0356,0.0416,0.0476,0.0536,0.0596,0.0656,0.0716,0.0776,0.0836,0.0896,0.0956,0.1016,0.1076,0.1136,0.1196,0.1256,0.1316,0.1376,0.1436,0.1496,0.1556,0.1616];
const tessCyanResC = [0.06,-0.10,0.02,0.13,-0.05,0.09,-0.14,0.04,-0.02,0.11,-0.08,0.07,0.16,-0.12,0.01,-0.06,0.10,-0.17,0.05,0.03,-0.09,0.14,-0.04,0.08,-0.13,0.00,0.12,-0.07,0.06,-0.11,0.19,-0.03,0.04,-0.15,0.09,0.02,-0.08,0.13,-0.05,0.07,-0.19,0.10,0.01,-0.06,0.15,-0.10,0.05,-0.02,0.11,-0.13,0.03,0.08,-0.07,0.12];
const tessCyanBin = [1.00020,1.00026,0.99983,0.99972,0.99971,0.99989,1.00005,0.99998,1.00008,1.00008,0.99989,0.99983,0.99969,1.00008,0.99978,0.99995,0.99980,1.00005,1.00017,1.00035,0.99667,0.99058,0.98946,0.98917,0.98928,0.99055,0.99767,1.00002,1.00011,0.99986,1.00008,1.00011,0.99986,1.00002,0.99977,0.99957,1.00026,1.00014,0.99998,1.00053,1.00002,1.00008,0.99995,1.00011,0.99964,1.00017];

const tessLimePhase = [-0.1622,-0.1557,-0.1491,-0.1426,-0.1360,-0.1295,-0.1229,-0.1164,-0.1098,-0.1033,-0.0967,-0.0902,-0.0836,-0.0771,-0.0705,-0.0640,-0.0574,-0.0509,-0.0443,-0.0378,-0.0312,-0.0266,-0.0236,-0.0209,-0.0182,-0.0146,-0.0102,-0.0058,-0.0014,0.0030,0.0074,0.0118,0.0162,0.0194,0.0225,0.0258,0.0301,0.0367,0.0432,0.0498,0.0563,0.0629,0.0694,0.0760,0.0825,0.0891,0.0956,0.1022,0.1087,0.1153,0.1218,0.1284,0.1349,0.1415,0.1480,0.1546,0.1611];
const tessLimeFlux = [0.9997,1.0014,0.9985,1.0004,0.9992,1.0011,0.9982,1.0007,0.9995,1.0016,0.9987,1.0003,0.9990,1.0012,0.9983,1.0006,0.9996,1.0010,0.9986,1.0005,0.9993,1.0008,0.9981,0.9942,0.9915,0.9892,0.9904,0.9883,0.9895,0.9886,0.9900,0.9885,0.9911,0.9927,0.9966,1.0003,0.9985,1.0010,0.9991,1.0004,0.9986,1.0013,0.9994,1.0008,0.9982,1.0005,0.9997,1.0014,0.9988,1.0003,0.9991,1.0010,0.9985,1.0007,0.9994,1.0012,0.9986];
const tessLimeRes = [-0.07,0.13,0.02,-0.11,0.09,-0.18,0.05,0.16,-0.04,0.10,-0.13,0.01,0.07,-0.16,0.12,-0.02,0.18,-0.09,0.04,-0.12,0.08,0.14,-0.06,0.03,-0.15,0.11,-0.01,0.06,-0.10,0.17,-0.05,0.09,-0.26,0.02,0.13,-0.08,0.05,-0.14,0.10,0.19,-0.03,0.07,-0.11,0.15,-0.07,0.01,-0.17,0.12,0.04,-0.09,0.08,-0.04,0.14,-0.12,0.06,0.03,-0.08];
const tessLimeResPhaseB = [-0.1554,-0.1511,-0.1469,-0.1425,-0.1382,-0.1340,-0.1296,-0.1253,-0.1211,-0.1167,-0.1124,-0.1082,-0.1038,-0.0995,-0.0953,-0.0909,-0.0866,-0.0824,-0.0780,-0.0737,-0.0695,-0.0651,-0.0608,-0.0566,-0.0522,-0.0479,-0.0437,-0.0393,-0.0350,-0.0308,-0.0264,-0.0221,-0.0179,-0.0135,-0.0092,-0.0050,-0.0006,0.0037,0.0079,0.0123,0.0166,0.0208,0.0252,0.0295,0.0337,0.0381,0.0424,0.0466,0.0510,0.0553,0.0595,0.0639,0.0682,0.0724,0.0768,0.0811,0.0853,0.0897,0.0940,0.0982,0.1026,0.1069,0.1111,0.1155,0.1198,0.1240,0.1284,0.1327,0.1369,0.1413,0.1456,0.1498,0.1542,0.1585,0.1617];
const tessLimeResB = [0.05,-0.11,0.14,-0.04,0.09,0.02,-0.16,0.11,-0.07,0.04,0.18,-0.09,0.01,-0.13,0.07,0.12,-0.05,0.03,-0.19,0.10,-0.02,0.15,-0.10,0.06,0.00,-0.14,0.13,0.04,-0.08,0.09,-0.03,0.20,-0.12,0.07,-0.05,0.11,0.02,-0.17,0.08,-0.01,0.14,-0.09,0.05,0.10,-0.15,0.03,-0.06,0.16,-0.04,0.08,-0.11,0.01,0.12,-0.07,0.06,-0.21,0.09,0.03,-0.10,0.15,-0.02,0.07,-0.13,0.11,0.00,-0.08,0.05,0.17,-0.06,0.10,-0.14,0.02,0.08,-0.03,0.12];
const tessLimeResPhaseC = [-0.1578,-0.1518,-0.1458,-0.1398,-0.1338,-0.1278,-0.1218,-0.1158,-0.1098,-0.1038,-0.0978,-0.0918,-0.0858,-0.0798,-0.0738,-0.0678,-0.0618,-0.0558,-0.0498,-0.0438,-0.0378,-0.0318,-0.0258,-0.0198,-0.0138,-0.0078,-0.0018,0.0042,0.0102,0.0162,0.0222,0.0282,0.0342,0.0402,0.0462,0.0522,0.0582,0.0642,0.0702,0.0762,0.0822,0.0882,0.0942,0.1002,0.1062,0.1122,0.1182,0.1242,0.1302,0.1362,0.1422,0.1482,0.1542,0.1602];
const tessLimeResC = [-0.05,0.08,-0.12,0.04,0.11,-0.02,-0.09,0.06,0.14,-0.07,0.02,-0.15,0.09,0.00,-0.04,0.12,-0.10,0.05,-0.01,0.16,-0.08,0.03,0.07,-0.13,0.01,0.10,-0.06,0.04,-0.18,0.08,0.02,-0.03,0.13,-0.11,0.06,-0.05,0.09,0.17,-0.07,0.03,-0.14,0.05,0.11,-0.02,-0.09,0.07,0.01,-0.12,0.15,-0.04,0.06,-0.08,0.10,-0.01];
const tessLimeBin = [1.00008,0.99983,0.99968,1.00002,1.00011,1.00002,1.00008,1.00014,1.00026,1.00042,1.00019,1.00026,1.00002,1.00059,0.99960,1.00026,1.00017,0.99985,1.00000,0.99982,0.99736,0.99054,0.98985,0.98899,0.98928,0.99025,0.99660,1.00014,0.99969,0.99972,1.00014,1.00002,0.99974,1.00034,1.00014,1.00002,0.99989,0.99955,0.99964,1.00029,0.99971,1.00011,1.00019,1.00017,0.99986,0.99995];

const tessBlackPhase = [-0.1613,-0.1548,-0.1482,-0.1417,-0.1351,-0.1286,-0.1220,-0.1155,-0.1089,-0.1024,-0.0958,-0.0893,-0.0827,-0.0762,-0.0696,-0.0631,-0.0565,-0.0500,-0.0434,-0.0369,-0.0303,-0.0258,-0.0228,-0.0201,-0.0174,-0.0136,-0.0092,-0.0048,-0.0004,0.0040,0.0084,0.0128,0.0170,0.0201,0.0232,0.0267,0.0310,0.0376,0.0441,0.0507,0.0572,0.0638,0.0703,0.0769,0.0834,0.0900,0.0965,0.1031,0.1096,0.1162,0.1227,0.1293,0.1358,0.1424,0.1489,0.1555,0.1620];
const tessBlackFlux = [1.0011,0.9990,1.0005,0.9983,1.0013,0.9995,1.0008,0.9986,1.0002,0.9980,1.0010,0.9993,1.0015,0.9988,1.0004,0.9992,1.0012,0.9985,1.0006,0.9990,1.0009,0.9985,0.9972,0.9938,0.9908,0.9891,0.9905,0.9884,0.9893,0.9879,0.9898,0.9893,0.9912,0.9941,0.9976,0.9992,1.0013,0.9987,1.0004,0.9994,1.0011,0.9984,1.0007,0.9993,1.0014,0.9986,1.0001,0.9990,1.0012,0.9981,1.0006,0.9995,1.0015,0.9988,1.0003,0.9992,1.0009];
const tessBlackRes = [0.10,-0.03,0.15,-0.10,0.05,-0.14,0.08,0.02,-0.07,0.12,-0.17,0.04,0.09,-0.05,0.18,-0.12,0.01,0.07,-0.09,0.14,-0.02,0.11,-0.15,0.06,-0.04,0.13,-0.08,0.03,0.16,-0.11,0.07,-0.01,0.10,-0.16,0.05,0.12,-0.06,0.02,-0.13,0.09,0.17,-0.04,0.06,-0.10,0.14,-0.07,0.03,0.11,-0.14,0.08,-0.02,0.15,-0.09,0.04,0.12,-0.05,0.07];
const tessBlackResPhaseB = [-0.1542,-0.1499,-0.1457,-0.1413,-0.1370,-0.1328,-0.1284,-0.1241,-0.1199,-0.1155,-0.1112,-0.1070,-0.1026,-0.0983,-0.0941,-0.0897,-0.0854,-0.0812,-0.0768,-0.0725,-0.0683,-0.0639,-0.0596,-0.0554,-0.0510,-0.0467,-0.0425,-0.0381,-0.0338,-0.0296,-0.0252,-0.0209,-0.0167,-0.0123,-0.0080,-0.0038,0.0006,0.0049,0.0091,0.0135,0.0178,0.0220,0.0264,0.0307,0.0349,0.0393,0.0436,0.0478,0.0522,0.0565,0.0607,0.0651,0.0694,0.0736,0.0780,0.0823,0.0865,0.0909,0.0952,0.0994,0.1038,0.1081,0.1123,0.1167,0.1210,0.1252,0.1296,0.1339,0.1381,0.1425,0.1468,0.1510,0.1554,0.1597,0.1621];
const tessBlackResB = [-0.08,0.06,-0.02,0.13,-0.11,0.04,0.09,-0.06,0.16,-0.13,0.02,0.07,-0.09,0.11,-0.03,0.05,-0.15,0.14,0.00,-0.07,0.10,-0.12,0.03,0.08,-0.05,0.17,-0.10,0.01,0.12,-0.04,0.06,-0.14,0.09,0.02,-0.08,0.15,-0.06,0.04,-0.11,0.13,-0.01,0.07,-0.16,0.10,0.03,-0.09,0.12,-0.05,0.05,-0.13,0.18,0.00,-0.07,0.09,-0.03,0.14,-0.10,0.06,0.01,-0.12,0.11,-0.04,0.08,-0.15,0.04,0.13,-0.06,0.02,-0.09,0.16,-0.02,0.07,-0.11,0.10,-0.05];
const tessBlackResPhaseC = [-0.1628,-0.1599,-0.1569,-0.1540,-0.1511,-0.1481,-0.1452,-0.1422,-0.1393,-0.1364,-0.1334,-0.1305,-0.1275,-0.1246,-0.1217,-0.1187,-0.1158,-0.1128,-0.1099,-0.1070,-0.1040,-0.1011,-0.0981,-0.0952,-0.0923,-0.0893,-0.0864,-0.0834,-0.0805,-0.0776,-0.0746,-0.0717,-0.0687,-0.0658,-0.0629,-0.0599,-0.0570,-0.0540,-0.0511,-0.0482,-0.0452,-0.0423,-0.0393,-0.0364,-0.0335,-0.0305,-0.0276,-0.0246,-0.0217,-0.0188,-0.0158,-0.0129,-0.0099,-0.0070,-0.0041,-0.0011,0.0018,0.0048,0.0077,0.0106,0.0136,0.0165,0.0195,0.0224,0.0253,0.0283,0.0312,0.0342,0.0371,0.0400,0.0430,0.0459,0.0489,0.0518,0.0547,0.0577,0.0606,0.0636,0.0665,0.0694,0.0724,0.0753,0.0783,0.0812,0.0841,0.0871,0.0900,0.0930,0.0959,0.0988,0.1018,0.1047,0.1077,0.1106,0.1135,0.1165,0.1194,0.1224,0.1253,0.1282,0.1312,0.1341,0.1371,0.1400,0.1429,0.1459,0.1488,0.1518,0.1547,0.1576];
const tessBlackResC = [0.03,-0.05,0.07,-0.01,0.04,-0.08,0.02,0.06,-0.04,0.09,-0.06,0.01,-0.03,0.08,-0.09,0.05,0.00,-0.07,0.03,0.10,-0.02,0.06,-0.05,0.02,-0.10,0.04,0.07,-0.03,0.01,-0.06,0.08,-0.04,0.05,-0.08,0.00,0.03,-0.02,0.09,-0.07,0.04,-0.01,0.06,-0.09,0.02,0.07,-0.05,0.03,-0.03,0.11,-0.06,0.01,-0.08,0.05,0.04,-0.02,-0.11,0.06,0.00,-0.04,0.08,-0.07,0.02,0.05,-0.01,-0.09,0.07,0.03,-0.05,0.10,-0.03,0.01,-0.06,0.04,0.08,-0.08,0.02,-0.02,0.06,-0.04,0.09,-0.10,0.03,0.00,-0.05,0.07,-0.07,0.05,0.01,-0.03,0.12,-0.06,0.04,-0.01,0.08,-0.09,0.02,0.06,-0.04,0.03,-0.07,0.10,-0.02,0.05,-0.08,0.01,0.07,-0.05,0.04,-0.03,0.06];
const tessBlackBin = [0.99995,1.00011,1.00011,1.00015,1.00028,1.00045,1.00014,1.00002,1.00008,1.00023,1.00046,1.00002,1.00008,0.99977,1.00011,1.00012,0.99991,1.00007,0.99977,1.00007,0.99700,0.99083,0.98935,0.98924,0.98942,0.99032,0.99690,0.99978,0.99986,0.99989,1.00034,0.99995,0.99946,0.99995,1.00045,1.00002,1.00008,0.99968,0.99977,0.99972,0.99983,0.99954,1.00008,0.99963,0.99972,1.00034];

const tessBluePhase = [-0.1605,-0.1539,-0.1474,-0.1408,-0.1343,-0.1277,-0.1212,-0.1146,-0.1081,-0.1015,-0.0950,-0.0884,-0.0819,-0.0753,-0.0688,-0.0622,-0.0557,-0.0491,-0.0426,-0.0360,-0.0295,-0.0253,-0.0222,-0.0194,-0.0164,-0.0126,-0.0082,-0.0038,0.0006,0.0050,0.0094,0.0138,0.0176,0.0207,0.0240,0.0284,0.0350,0.0415,0.0481,0.0546,0.0612,0.0677,0.0743,0.0808,0.0874,0.0939,0.1005,0.1070,0.1136,0.1201,0.1267,0.1332,0.1398,0.1463,0.1529,0.1594];
const tessBlueFlux = [0.9985,1.0009,0.9996,1.0012,0.9984,1.0006,0.9993,1.0014,0.9987,1.0003,0.9991,1.0010,0.9982,1.0005,0.9997,1.0013,0.9986,1.0008,0.9990,1.0011,0.9987,1.0002,0.9960,0.9927,0.9896,0.9900,0.9882,0.9897,0.9886,0.9899,0.9883,0.9906,0.9902,0.9950,0.9980,1.0007,0.9991,1.0012,0.9984,1.0005,0.9995,1.0010,0.9986,1.0003,0.9992,1.0015,0.9983,1.0008,0.9994,1.0011,0.9987,1.0004,0.9991,1.0013,0.9984,1.0006];
const tessBlueRes = [-0.02,0.09,-0.11,0.14,0.04,-0.08,0.12,-0.15,0.06,0.01,-0.05,0.17,-0.09,0.10,-0.13,0.03,0.08,-0.06,0.15,-0.18,0.05,-0.01,0.11,-0.10,0.07,0.13,-0.04,-0.14,0.09,0.02,-0.07,0.16,-0.12,0.04,0.20,-0.03,-0.10,0.08,0.13,-0.16,0.01,0.06,-0.08,0.12,-0.22,0.05,0.10,-0.05,0.03,-0.12,0.15,-0.06,0.09,-0.02,0.11,-0.14];
const tessBlueResPhaseB = [-0.1530,-0.1487,-0.1445,-0.1401,-0.1358,-0.1316,-0.1272,-0.1229,-0.1187,-0.1143,-0.1100,-0.1058,-0.1014,-0.0971,-0.0929,-0.0885,-0.0842,-0.0800,-0.0756,-0.0713,-0.0671,-0.0627,-0.0584,-0.0542,-0.0498,-0.0455,-0.0413,-0.0369,-0.0326,-0.0284,-0.0240,-0.0197,-0.0155,-0.0111,-0.0068,-0.0026,0.0018,0.0061,0.0103,0.0147,0.0190,0.0232,0.0276,0.0319,0.0361,0.0405,0.0448,0.0490,0.0534,0.0577,0.0619,0.0663,0.0706,0.0748,0.0792,0.0835,0.0877,0.0921,0.0964,0.1006,0.1050,0.1093,0.1135,0.1179,0.1222,0.1264,0.1308,0.1351,0.1393,0.1437,0.1480,0.1522,0.1566,0.1609,-0.1627];
const tessBlueResB = [0.03,-0.10,0.08,0.14,-0.05,0.01,-0.12,0.10,0.05,-0.17,0.07,-0.03,0.12,-0.08,0.02,0.16,-0.11,0.06,-0.01,0.09,-0.14,0.04,0.11,-0.06,0.00,0.13,-0.09,0.05,-0.18,0.08,0.02,-0.04,0.15,-0.12,0.07,-0.02,0.10,-0.07,0.19,-0.13,0.03,0.06,-0.10,0.12,-0.05,0.01,-0.15,0.09,0.04,-0.08,0.14,-0.03,0.07,-0.11,0.17,0.00,-0.06,0.11,-0.16,0.05,0.08,-0.02,0.13,-0.09,0.03,-0.13,0.10,0.06,-0.04,0.15,-0.07,0.02,-0.10,0.09,-0.22];
const tessBlueResPhaseC = [-0.1614,-0.1585,-0.1555,-0.1526,-0.1496,-0.1467,-0.1438,-0.1408,-0.1379,-0.1349,-0.1320,-0.1291,-0.1261,-0.1232,-0.1202,-0.1173,-0.1144,-0.1114,-0.1085,-0.1055,-0.1026,-0.0997,-0.0967,-0.0938,-0.0908,-0.0879,-0.0850,-0.0820,-0.0791,-0.0761,-0.0732,-0.0703,-0.0673,-0.0644,-0.0614,-0.0585,-0.0556,-0.0526,-0.0497,-0.0467,-0.0438,-0.0409,-0.0379,-0.0350,-0.0320,-0.0291,-0.0262,-0.0232,-0.0203,-0.0173,-0.0144,-0.0115,-0.0085,-0.0056,-0.0026,0.0003,0.0032,0.0062,0.0091,0.0121,0.0150,0.0179,0.0209,0.0238,0.0268,0.0297,0.0326,0.0356,0.0385,0.0415,0.0444,0.0473,0.0503,0.0532,0.0562,0.0591,0.0620,0.0650,0.0679,0.0709,0.0738,0.0767,0.0797,0.0826,0.0856,0.0885,0.0914,0.0944,0.0973,0.1003,0.1032,0.1061,0.1091,0.1120,0.1150,0.1179,0.1208,0.1238,0.1267,0.1297,0.1326,0.1355,0.1385,0.1414,0.1444,0.1473,0.1502,0.1532,0.1561,0.1591];
const tessBlueResC = [-0.04,0.06,-0.02,0.08,-0.07,0.03,0.01,-0.09,0.05,-0.03,0.07,-0.05,0.10,0.00,-0.06,0.04,-0.01,0.09,-0.08,0.02,0.05,-0.04,-0.10,0.06,0.03,-0.02,0.08,-0.06,0.01,-0.09,0.04,0.07,-0.03,0.02,-0.07,0.11,-0.05,0.00,0.06,-0.01,-0.08,0.03,0.05,-0.04,0.09,-0.02,0.01,-0.06,0.07,-0.10,0.04,0.02,-0.05,0.08,-0.03,0.06,-0.07,0.00,0.03,-0.09,0.05,-0.01,0.10,-0.04,0.02,-0.06,0.07,-0.08,0.04,0.01,-0.03,0.09,-0.05,0.06,-0.02,-0.11,0.03,0.08,-0.07,0.00,0.05,-0.04,0.02,0.07,-0.09,0.04,-0.01,0.06,-0.06,0.03,-0.08,0.10,0.01,-0.03,0.05,-0.05,0.08,-0.02,0.04,-0.07,0.02,0.06,-0.10,0.03,-0.04,0.09,-0.01,0.05,-0.06,0.07];
const tessBlueBin = [0.99986,0.99977,1.00002,0.99981,0.99986,1.00011,0.99983,1.00042,0.99968,1.00014,0.99966,1.00028,1.00020,1.00002,1.00017,1.00014,1.00017,0.99989,0.99970,1.00045,0.99692,0.99054,0.98975,0.98935,0.98946,0.99032,0.99717,1.00011,1.00002,1.00026,1.00002,0.99954,1.00034,0.99983,1.00036,1.00029,0.99980,0.99978,0.99983,1.00015,0.99952,1.00020,0.99983,0.99998,1.00011,0.99977];

// ---- legend texts of the fit ----
const fitLine1 = [{ t: 'R', it: true }, { sup: '2', sub: 'p' }, { t: '/' }, { t: 'R', it: true }, { sup: '2', sub: 's' }, { t: ' = 0.010537 \u00b1 6.8e-05' }];
const fitLine2 = [{ t: 'T', it: true }, { t: 'mid', it: true, low: true }, { t: ' = 2460070.78798 \u00b1 0.00023 BJD' }, { t: 'TDB', it: true, low: true }];
const binnedLabel = 'Binned Data: 0.02 %';

// ---- axis limits ----
const X_MIN = -0.1634, X_MAX = 0.1623;
const FLUX_MIN = 0.98568, FLUX_MAX = 1.00378;
const RES_MIN = -0.376, RES_MAX = 0.377;

// fit the 4268x3192 figure into whatever viewport the page gets
(function fitToViewport() {
  const outer = document.getElementById('outer');
  const sx = outer.clientWidth / 4268, sy = outer.clientHeight / 3192;
  document.getElementById('wrap').style.transform = 'scale(' + sx + ',' + sy + ')';
})();

const FONT = '"DejaVu Sans", sans-serif';
Chart.defaults.font.family = FONT;
Chart.defaults.font.size = 40;
Chart.defaults.color = '#000';

function rgba(hex, a) {
  const n = parseInt(hex.slice(1), 16);
  return 'rgba(' + (n >> 16 & 255) + ',' + (n >> 8 & 255) + ',' + (n & 255) + ',' + a + ')';
}

function pts(xs, ys) {
  const out = [];
  const n = Math.min(xs.length, ys.length);
  for (let i = 0; i < n; i++) out.push({ x: xs[i], y: ys[i] });
  return out;
}

// matplotlib-like marker drawn once into a small canvas, used as pointStyle
function makeMarker(shape, size, fill, alpha, edge, edgeW) {
  const c = document.createElement('canvas');
  const n = Math.ceil(size + edgeW * 2 + 4);
  c.width = c.height = n;
  const g = c.getContext('2d');
  const m = n / 2, h = size / 2;
  g.beginPath();
  if (shape === 'o') {
    g.arc(m, m, h, 0, Math.PI * 2);
  } else if (shape === 's') {
    g.rect(m - h, m - h, size, size);
  } else if (shape === 'D' || shape === 'd') {
    const w = shape === 'D' ? h : h * 0.6;
    g.moveTo(m, m - h); g.lineTo(m + w, m); g.lineTo(m, m + h); g.lineTo(m - w, m);
  } else if (shape === '^') {
    g.moveTo(m, m - h); g.lineTo(m + h, m + h); g.lineTo(m - h, m + h);
  } else if (shape === 'v') {
    g.moveTo(m, m + h); g.lineTo(m + h, m - h); g.lineTo(m - h, m - h);
  } else if (shape === '<') {
    g.moveTo(m - h, m); g.lineTo(m + h, m - h); g.lineTo(m + h, m + h);
  } else if (shape === '>') {
    g.moveTo(m + h, m); g.lineTo(m - h, m - h); g.lineTo(m - h, m + h);
  } else if (shape === '*') {
    for (let k = 0; k < 10; k++) {
      const r = k % 2 ? h * 0.4 : h;
      const a = -Math.PI / 2 + k * Math.PI / 5;
      g.lineTo(m + r * Math.cos(a), m + r * Math.sin(a));
    }
  } else if (shape === 'h' || shape === 'H') {
    const off = shape === 'h' ? -Math.PI / 2 : 0;
    for (let k = 0; k < 6; k++) {
      const a = off + k * Math.PI / 3;
      g.lineTo(m + h * Math.cos(a), m + h * Math.sin(a));
    }
  }
  g.closePath();
  g.globalAlpha = alpha;
  g.fillStyle = fill;
  g.fill();
  g.lineWidth = edgeW;
  g.strokeStyle = edge;
  g.stroke();
  return c;
}

// faint: alpha of the raw points in the top panel, bar: alpha of their error bars, barW: their width
const series = [
  { label: 'AAVSO: 0.60 %', color: '#000000', shape: 'o', size: 30, faint: 0.14, bar: 0.17, barW: 8, phase: aavso060Phase, flux: aavso060Flux, err: 0.0060, res: [pts(aavso060ResPhase, aavso060Res)], binPhase: aavso060BinPhase, binFlux: aavso060BinFlux, binErr: aavso060BinErr },
  { label: 'AAVSO: 0.34 %', color: '#0000ff', shape: 'v', size: 34, faint: 0.12, bar: 0.10, barW: 8, phase: aavso034Phase, flux: aavso034Flux, err: 0.0034, res: [pts(aavso034ResPhase, aavso034Res)], binPhase: aavso034BinPhase, binFlux: aavso034BinFlux, binErr: aavso034BinErr },
  { label: 'AAVSO: 1.12 %', color: '#008000', shape: '^', size: 34, faint: 0.10, bar: 0.07, barW: 8, phase: aavso112Phase, flux: aavso112Flux, err: 0.0112, res: [pts(aavso112ResPhase, aavso112Res)], binPhase: aavso112BinPhase, binFlux: aavso112BinFlux, binErr: aavso112BinErr },
  { label: 'AAVSO: 1.01 %', color: '#ffa500', shape: '<', size: 34, faint: 0.12, bar: 0.09, barW: 8, phase: aavso101Phase, flux: aavso101Flux, err: 0.0101, res: [pts(aavso101ResPhase, aavso101Res)], binPhase: aavso101BinPhase, binFlux: aavso101BinFlux, binErr: aavso101BinErr },
  { label: 'TESS: 0.09 %', color: '#800080', shape: '>', size: 34, faint: 0.08, bar: 0.09, barW: 12, phase: tessPurplePhase, flux: tessPurpleFlux, err: 0.0012, res: [pts(tessPurplePhase, tessPurpleRes), pts(tessPurpleResPhaseB, tessPurpleResB), pts(tessPurpleResPhaseC, tessPurpleResC)], binPhase: tessBinPhase, binFlux: tessPurpleBin, binErr: 0.00022 },
  { label: 'TESS: 0.08 %', color: '#808080', shape: 's', size: 28, faint: 0.08, bar: 0.09, barW: 12, phase: tessGrayPhase, flux: tessGrayFlux, err: 0.0011, res: [pts(tessGrayPhase, tessGrayRes), pts(tessGrayResPhaseB, tessGrayResB), pts(tessGrayResPhaseC, tessGrayResC)], binPhase: tessBinPhase, binFlux: tessGrayBin, binErr: 0.0002 },
  { label: 'TESS: 0.08 %', color: '#ff00ff', shape: '*', size: 40, faint: 0.08, bar: 0.09, barW: 12, phase: tessMagentaPhase, flux: tessMagentaFlux, err: 0.0011, res: [pts(tessMagentaPhase, tessMagentaRes), pts(tessMagentaResPhaseB, tessMagentaResB), pts(tessMagentaResPhaseC, tessMagentaResC)], binPhase: tessBinPhase, binFlux: tessMagentaBin, binErr: 0.0002 },
  { label: 'TESS: 0.08 %', color: '#00ffff', shape: 'h', size: 34, faint: 0.08, bar: 0.09, barW: 12, phase: tessCyanPhase, flux: tessCyanFlux, err: 0.0011, res: [pts(tessCyanPhase, tessCyanRes), pts(tessCyanResPhaseB, tessCyanResB), pts(tessCyanResPhaseC, tessCyanResC)], binPhase: tessBinPhase, binFlux: tessCyanBin, binErr: 0.0002 },
  { label: 'TESS: 0.08 %', color: '#00ff00', shape: 'H', size: 34, faint: 0.08, bar: 0.09, barW: 12, phase: tessLimePhase, flux: tessLimeFlux, err: 0.0011, res: [pts(tessLimePhase, tessLimeRes), pts(tessLimeResPhaseB, tessLimeResB), pts(tessLimeResPhaseC, tessLimeResC)], binPhase: tessBinPhase, binFlux: tessLimeBin, binErr: 0.0002 },
  { label: 'TESS: 0.08 %', color: '#000000', shape: 'D', size: 40, faint: 0.08, bar: 0.09, barW: 12, phase: tessBlackPhase, flux: tessBlackFlux, err: 0.0011, res: [pts(tessBlackPhase, tessBlackRes), pts(tessBlackResPhaseB, tessBlackResB), pts(tessBlackResPhaseC, tessBlackResC)], binPhase: tessBinPhase, binFlux: tessBlackBin, binErr: 0.0002 },
  { label: 'TESS: 0.08 %', color: '#0000ff', shape: 'd', size: 40, faint: 0.08, bar: 0.09, barW: 12, phase: tessBluePhase, flux: tessBlueFlux, err: 0.0011, res: [pts(tessBluePhase, tessBlueRes), pts(tessBlueResPhaseB, tessBlueResB), pts(tessBlueResPhaseC, tessBlueResC)], binPhase: tessBinPhase, binFlux: tessBlueBin, binErr: 0.0002 }
];
series.forEach(s => { s.boldMarker = makeMarker(s.shape, s.size, s.color, 1, s.color, 3); });

// vertical error bars, drawn just before each dataset's points
const errorBars = {
  id: 'errorBars',
  beforeDatasetDraw(chart, args) {
    const ds = chart.data.datasets[args.index];
    if (ds.errors === undefined) return;
    const { ctx, chartArea } = chart;
    const yScale = chart.scales.y;
    ctx.save();
    ctx.beginPath();
    ctx.rect(chartArea.left, chartArea.top, chartArea.right - chartArea.left, chartArea.bottom - chartArea.top);
    ctx.clip();
    ctx.strokeStyle = ds.errColor;
    ctx.lineWidth = ds.errWidth;
    args.meta.data.forEach((el, i) => {
      const d = ds.data[i];
      const e = Array.isArray(ds.errors) ? ds.errors[i] : ds.errors;
      ctx.beginPath();
      ctx.moveTo(el.x, yScale.getPixelForValue(d.y - e));
      ctx.lineTo(el.x, yScale.getPixelForValue(d.y + e));
      ctx.stroke();
    });
    ctx.restore();
  }
};

const frame = {
  id: 'frame',
  afterDatasetsDraw(chart) {
    const { ctx, chartArea: a } = chart;
    ctx.save();
    ctx.lineWidth = 3;
    ctx.strokeStyle = '#000';
    ctx.strokeRect(a.left, a.top, a.right - a.left, a.bottom - a.top);
    ctx.restore();
  }
};

function richText(ctx, x, y, parts) {
  parts.forEach(p => {
    if (p.sup !== undefined) {
      ctx.font = '28px ' + FONT;
      const w1 = ctx.measureText(p.sup).width;
      ctx.fillText(p.sup, x, y - 19);
      ctx.font = 'italic 28px ' + FONT;
      const w2 = ctx.measureText(p.sub).width;
      ctx.fillText(p.sub, x, y + 9);
      x += Math.max(w1, w2) + 2;
    } else {
      ctx.font = (p.it ? 'italic ' : '') + (p.low ? 28 : 40) + 'px ' + FONT;
      ctx.fillText(p.t, x, p.low ? y + 9 : y);
      x += ctx.measureText(p.t).width;
    }
  });
}

function roundBox(ctx, x, y, w, h, r) {
  ctx.beginPath();
  ctx.moveTo(x + r, y);
  ctx.arcTo(x + w, y, x + w, y + h, r);
  ctx.arcTo(x + w, y + h, x, y + h, r);
  ctx.arcTo(x, y + h, x, y, r);
  ctx.arcTo(x, y, x + w, y, r);
  ctx.closePath();
}

const binnedMarkerTop = makeMarker('o', 62, '#ffffff', 1, '#000000', 7);
const binnedMarkerRes = makeMarker('o', 44, '#ffffff', 1, '#000000', 5);

const legendBox = {
  id: 'legendBox',
  afterDraw(chart) {
    const { ctx, chartArea } = chart;
    const W = 1630, H = 522;
    const L = chartArea.right - 22 - W, T = chartArea.bottom - 22 - H;
    ctx.save();
    roundBox(ctx, L, T, W, H, 12);
    ctx.fillStyle = 'rgba(255,255,255,0.8)';
    ctx.fill();
    ctx.lineWidth = 3;
    ctx.strokeStyle = '#cccccc';
    ctx.stroke();

    ctx.fillStyle = '#000';
    ctx.textBaseline = 'alphabetic';
    ctx.textAlign = 'left';

    // fit line entry
    ctx.strokeStyle = '#ff0000';
    ctx.lineWidth = 12;
    ctx.beginPath();
    ctx.moveTo(L + 9, T + 76);
    ctx.lineTo(L + 104, T + 76);
    ctx.stroke();
    richText(ctx, L + 133, T + 59, fitLine1);
    richText(ctx, L + 133, T + 120, fitLine2);

    const handle = (s, x, y) => {
      ctx.strokeStyle = s.color;
      ctx.lineWidth = 7;
      ctx.beginPath();
      ctx.moveTo(x, y - 21);
      ctx.lineTo(x, y + 21);
      ctx.stroke();
      const m = s.boldMarker;
      ctx.drawImage(m, x - m.width / 2, y - m.height / 2);
    };
    series.slice(0, 6).forEach((s, i) => {
      const base = T + 183.4 + i * 62.8;
      handle(s, L + 58, base - 14.5);
      ctx.font = '40px ' + FONT;
      ctx.fillText(s.label, L + 133, base);
    });
    series.slice(6).forEach((s, i) => {
      const base = T + 90.4 + i * 62.8;
      handle(s, L + 1107, base - 14.5);
      ctx.font = '40px ' + FONT;
      ctx.fillText(s.label, L + 1182, base);
    });
    const bBase = T + 90.4 + 5 * 62.8 + 2;
    ctx.drawImage(binnedMarkerTop, L + 1107 - binnedMarkerTop.width / 2, bBase - 14.5 - binnedMarkerTop.height / 2);
    ctx.font = '40px ' + FONT;
    ctx.fillText(binnedLabel, L + 1182, bBase);
    ctx.restore();
  }
};

const minus = s => s.replace('-', '\u2212');

function yAxis(min, max, ticks, fmt, title, titlePad) {
  return {
    type: 'linear', min: min, max: max,
    afterFit: s => { s.width = 280; s.paddingTop = 0; s.paddingBottom = 0; },
    afterBuildTicks: s => { s.ticks = ticks.map(v => ({ value: v })); },
    ticks: { callback: v => minus(fmt(v)), padding: 19, autoSkip: false },
    grid: { color: '#b0b0b0', lineWidth: 3, drawTicks: true, tickLength: 15, tickColor: '#000', tickWidth: 3 },
    border: { display: false, dash: [12, 5] },
    title: { display: true, text: title, font: { size: 56 }, padding: { top: titlePad, bottom: 0 } }
  };
}

// ---- top panel ----
const topSets = [];
series.forEach((s, i) => {
  topSets.push({
    data: pts(s.phase, s.flux),
    pointStyle: makeMarker(s.shape, s.size, s.color, s.faint, s.color, 3),
    pointRadius: 6,
    errors: s.err, errColor: rgba(s.color, s.bar), errWidth: s.barW,
    order: 300 - i
  });
});
series.forEach((s, i) => {
  topSets.push({
    data: pts(s.binPhase, s.binFlux),
    pointStyle: s.boldMarker,
    pointRadius: 6,
    errors: s.binErr, errColor: s.color, errWidth: 7,
    order: 200 - i
  });
});
topSets.push({ data: pts(binPhase, binFlux), pointStyle: binnedMarkerTop, pointRadius: 6, order: 100 });
topSets.push({
  data: pts(modelPhase, modelFlux), showLine: true, borderColor: '#ff0000', borderWidth: 12,
  pointRadius: 0, cubicInterpolationMode: 'monotone', order: 0
});

new Chart(document.getElementById('top'), {
  type: 'scatter',
  data: { datasets: topSets },
  options: {
    responsive: false, animation: false, devicePixelRatio: 1, events: [],
    layout: { padding: { left: 0, right: 28, top: 29, bottom: 20 } },
    plugins: { legend: { display: false }, tooltip: { enabled: false } },
    scales: {
      x: { type: 'linear', min: X_MIN, max: X_MAX, display: false },
      y: yAxis(FLUX_MIN, FLUX_MAX, fluxTicks, v => v.toFixed(4), 'Relative Flux', 21)
    }
  },
  plugins: [errorBars, frame, legendBox]
});

// ---- residual panel ----
const resSets = [];
series.forEach((s, i) => {
  resSets.push({
    data: [].concat(...s.res),
    pointStyle: makeMarker(s.shape, s.size * 0.8, s.color, 0.3, s.color, 3),
    pointRadius: 6,
    order: 300 - i
  });
});
resSets.push({ data: pts(binPhase, binResid), pointStyle: binnedMarkerRes, pointRadius: 6, order: 100 });

new Chart(document.getElementById('bottom'), {
  type: 'scatter',
  data: { datasets: resSets },
  options: {
    responsive: false, animation: false, devicePixelRatio: 1, events: [],
    layout: { padding: { left: 0, right: 28, top: 10, bottom: 0 } },
    plugins: { legend: { display: false }, tooltip: { enabled: false } },
    scales: {
      x: {
        type: 'linear', min: X_MIN, max: X_MAX,
        afterFit: s => { s.height = 176; s.paddingLeft = 0; s.paddingRight = 0; },
        afterBuildTicks: s => { s.ticks = xTicks.map(v => ({ value: v })); },
        ticks: { callback: v => minus(v.toFixed(2)), padding: 10, maxRotation: 0, autoSkip: false },
        grid: { drawOnChartArea: false, drawTicks: true, tickLength: 15, tickColor: '#000', tickWidth: 3, lineWidth: 3, color: '#000' },
        border: { display: false },
        title: { display: true, text: 'Phase', font: { size: 56 }, padding: { top: 0, bottom: 28 } }
      },
      y: yAxis(RES_MIN, RES_MAX, residTicks, v => v.toFixed(1), 'Residuals [%]', 66)
    }
  },
  plugins: [frame]
});
</script>
</body>
</html>
